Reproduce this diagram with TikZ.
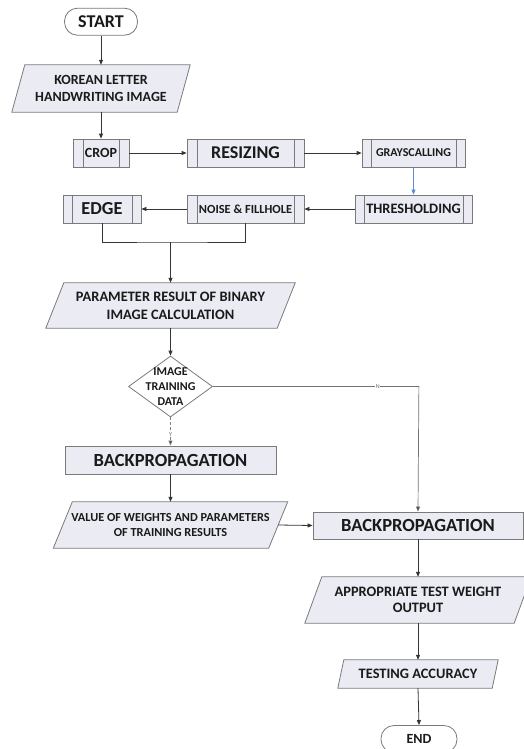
\documentclass[tikz,border=0pt]{standalone}
\usepackage{fontspec}
\setmainfont{Carlito}
\usetikzlibrary{arrows.meta,shapes.geometric,backgrounds}
\definecolor{boxbg}{HTML}{EBEBF4}
\definecolor{boxline}{HTML}{7A7A7A}
\definecolor{txt}{HTML}{1A1A1A}
\definecolor{conn}{HTML}{353535}
\definecolor{bluearrow}{HTML}{5B8BD0}
\newcommand\fsz[2]{\fontsize{#1}{#2}\selectfont}
\newcommand\ioshape[2]{\path[draw=boxline, line width=0.8pt, fill=boxbg]
  ([xshift=#2]#1.north west) -- ([xshift=#2]#1.north east) --
  ([xshift=-#2]#1.south east) -- ([xshift=-#2]#1.south west) -- cycle;}
\tikzset{
  base/.style={draw=boxline, line width=0.8pt, inner sep=0pt, text=txt, align=center},
  term/.style={base, rectangle, rounded corners=13pt, fill=white},
  proc/.style={base, rectangle, fill=boxbg},
  pproc/.style={proc, path picture={\draw[boxline, line width=0.8pt]
     ([xshift=#1]path picture bounding box.north west) -- ([xshift=#1]path picture bounding box.south west)
     ([xshift=-#1]path picture bounding box.north east) -- ([xshift=-#1]path picture bounding box.south east);}},
  iotext/.style={rectangle, inner sep=0pt, text=txt, align=center},
  decbox/.style={base, diamond, fill=white},
  arr/.style={draw=conn, line width=0.8pt, -{Triangle[length=5pt,width=4pt]}},
  link/.style={draw=conn, line width=0.8pt},
  tinylbl/.style={font=\fsz{6}{7}, text=gray!80!black, fill=white, inner sep=0.3pt},
}
\begin{document}
\begin{tikzpicture}[x=1pt,y=-1pt]
\useasboundingbox (0,0) rectangle (524,749);
% nodes
\node[term, minimum width=73pt, minimum height=27pt, font=\bfseries\fsz{18}{20}] (start) at (101,21.7) {START};
\node[iotext, minimum width=165pt, minimum height=47pt, font=\bfseries\fsz{14}{16.7}] (korean) at (101,88.5) {KOREAN LETTER\\HANDWRITING IMAGE};
\node[pproc=10pt, minimum width=56pt, minimum height=28pt, font=\bfseries\fsz{14}{16}] (crop) at (101,153) {CROP};
\node[pproc=10pt, minimum width=117pt, minimum height=28pt, font=\bfseries\fsz{18}{20}] (resize) at (245.5,153) {RESIZING};
\node[pproc=9pt, minimum width=103pt, minimum height=28pt, font=\bfseries\fsz{12}{14}] (gray) at (413.5,153) {GRAYSCALLING};
\node[pproc=9pt, minimum width=117pt, minimum height=28pt, font=\bfseries\fsz{14.4}{16}] (thresh) at (413.5,209) {THRESHOLDING};
\node[pproc=10pt, minimum width=117pt, minimum height=28pt, font=\bfseries\fsz{12.4}{14}] (noise) at (245.5,209) {NOISE \& FILLHOLE};
\node[pproc=9pt, minimum width=78pt, minimum height=28pt, font=\bfseries\fsz{18.3}{20}] (edge) at (102,209) {EDGE};
\coordinate (join) at (170.5,242);
\node[iotext, minimum width=231pt, minimum height=45pt, font=\bfseries\fsz{14.4}{17.7}] (param) at (170.5,305.5) {PARAMETER RESULT OF BINARY\\IMAGE CALCULATION};
\node[decbox, minimum width=84pt, minimum height=61pt,
  label={[font=\bfseries\fsz{12}{14.7}, text=txt, align=center]center:IMAGE\\TRAINING\\DATA}] (dec) at (170.5,386.5) {};
\node[proc, minimum width=211pt, minimum height=28pt, font=\bfseries\fsz{18.5}{20}] (bp1) at (170.5,460) {BACKPROPAGATION};
\node[iotext, minimum width=215pt, minimum height=46pt, font=\bfseries\fsz{12.3}{14.5}] (value) at (170.5,525) {VALUE OF WEIGHTS AND PARAMETERS\\OF TRAINING RESULTS};
\node[proc, minimum width=210pt, minimum height=27pt, font=\bfseries\fsz{18.5}{20}] (bp2) at (418,525.5) {BACKPROPAGATION};
\node[iotext, minimum width=209pt, minimum height=46pt, font=\bfseries\fsz{14.4}{16}] (appro) at (418,600) {APPROPRIATE TEST WEIGHT\\OUTPUT};
\node[iotext, minimum width=154pt, minimum height=28pt, font=\bfseries\fsz{14.4}{16}] (testing) at (418,674) {TESTING ACCURACY};
\node[term, minimum width=76pt, minimum height=27pt, font=\bfseries\fsz{14}{16}] (end) at (419,739) {END};
% parallelogram outlines behind texts
\begin{scope}[on background layer]
\ioshape{korean}{6.5pt}
\ioshape{param}{9pt}
\ioshape{value}{9.5pt}
\ioshape{appro}{8.5pt}
\ioshape{testing}{3pt}
\end{scope}
% connectors
\draw[arr] (start.south) -- (korean.north);
\draw[arr] (korean.south) -- (crop.north);
\draw[arr] (crop.east) -- (resize.west);
\draw[arr] (resize.east) -- (gray.west);
\draw[line width=0.8pt, draw=bluearrow, -{Triangle[length=5pt,width=4pt]}] (gray.south) -- (thresh.north);
\draw[arr] (thresh.west) -- (noise.east);
\draw[arr] (noise.west) -- (edge.east);
\draw[link] (edge.south) |- (join) -| (noise.south);
\draw[arr] (join) -- (param.north);
\draw[arr] (param.south) -- (dec.north);
\draw[draw=gray, line width=0.7pt, densely dashed, -{Triangle[length=5pt,width=4pt,fill=conn]}] (dec.south) -- node[tinylbl, pos=0.6]{Y} (bp1.north);
\draw[draw=gray!90!black, line width=0.7pt, -{Triangle[length=5pt,width=4pt,fill=conn]}] (dec.east) -- node[tinylbl, pos=0.8]{N} ++(206,0) coordinate (ncorner) -- (bp2.north);
\draw[arr] (bp1.south) -- (value.north);
\draw[arr] (value.east) -- (bp2.west);
\draw[arr] (bp2.south) -- (appro.north);
\draw[arr] (appro.south) -- (testing.north);
\draw[arr] (testing.south) -- (end.north);
\end{tikzpicture}
\end{document}
